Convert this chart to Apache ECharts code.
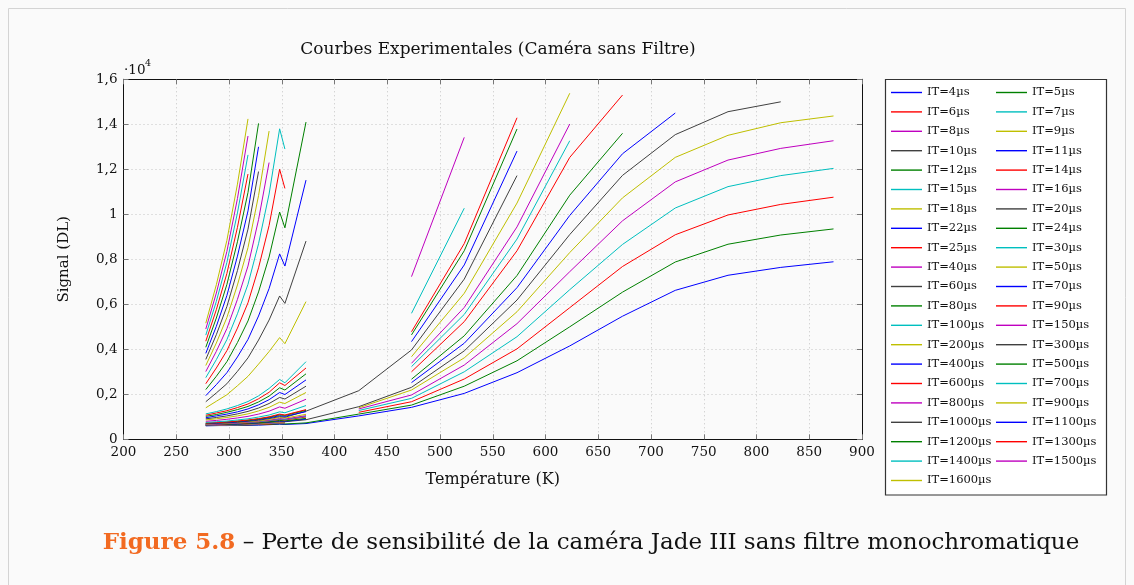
<!DOCTYPE html>
<html><head><meta charset="utf-8">
<script src="https://cdn.jsdelivr.net/npm/echarts@6/dist/echarts.min.js"></script>
<style>html,body{margin:0;padding:0;background:#fafafa}#c{width:1134px;height:585px}</style>
</head><body><div id="c"></div><script>
// Temperatures (K) at which the signal was measured
const temperatures = [278, 288, 298, 308, 318, 328, 338, 348, 353, 373, 423, 473, 523, 573, 623, 673, 723, 773, 823, 873];
// Integration times (µs)
const itTimes = [4,5,6,7,8,9,10,11,12,14,15,16,18,20,22,24,25,30,40,50,60,70,80,90,100,150,200,300,400,500,600,700,800,900,1000,1100,1200,1300,1400,1500,1600];
// Signal values in thousands of DL (null = no measurement)
const n = null;
const it4    = [0.60,0.61,0.61,0.62,0.62,0.63,0.65,0.67,0.66,0.70,1.04,1.42,2.04,2.96,4.15,5.47,6.62,7.29,7.64,7.89];
const it5    = [0.61,0.61,0.62,0.63,0.64,0.65,0.66,0.69,0.68,0.73,1.12,1.52,2.36,3.49,5.00,6.54,7.88,8.67,9.08,9.35];
const it6    = [0.61,0.62,0.63,0.64,0.65,0.66,0.68,0.71,0.70,n,1.20,1.67,2.68,4.02,5.85,7.68,9.09,9.97,10.44,10.76];
const it7    = [0.62,0.63,0.63,0.64,0.66,0.68,0.70,0.73,0.72,n,1.28,1.82,3.00,4.56,6.65,8.66,10.28,11.23,11.72,12.04];
const it8    = [0.62,0.63,0.64,0.65,0.67,0.69,0.71,0.75,0.74,n,1.35,1.97,3.30,5.14,7.45,9.71,11.44,12.41,12.93,13.27];
const it9    = [0.63,0.64,0.65,0.66,0.68,0.70,0.73,0.77,0.76,n,1.40,2.19,3.62,5.67,8.30,10.73,12.53,13.51,14.07,14.37];
const it10   = [0.64,0.65,0.66,0.67,0.69,0.72,0.75,0.79,0.78,0.87,1.45,2.31,3.93,6.19,9.10,11.73,13.54,14.56,15.00];
const it11   = [0.64,0.65,0.67,0.68,0.70,0.73,0.77,0.82,0.80,0.90,n,2.52,4.27,6.74,9.95,12.69,14.50];
const it12   = [0.65,0.66,0.67,0.69,0.71,0.74,0.78,0.84,0.82,0.93,n,2.67,4.60,7.28,10.85,13.60];
const it14   = [0.66,0.67,0.69,0.71,0.73,0.77,0.82,0.88,0.86,0.99,n,3.00,5.23,8.38,12.53,15.30];
const it15   = [0.66,0.68,0.70,0.72,0.75,0.78,0.83,0.90,0.88,1.02,n,3.23,5.55,8.90,13.27];
const it16   = [0.67,0.68,0.70,0.73,0.76,0.80,0.85,0.92,0.90,1.05,n,3.38,5.86,9.44,14.01];
const it18   = [0.68,0.70,0.72,0.75,0.78,0.82,0.88,0.97,0.94,1.11,n,3.67,6.49,10.50,15.38];
const it20   = [0.69,0.71,0.73,0.76,0.80,0.85,0.92,1.01,0.98,1.25,2.16,3.97,7.12,11.72];
const it22   = [0.70,0.72,0.75,0.78,0.82,0.88,0.95,1.05,1.02,1.23,n,4.34,7.75,12.81];
const it24   = [0.71,0.74,0.77,0.80,0.84,0.90,0.98,1.09,1.06,1.29,n,4.64,8.38,13.79];
const it25   = [0.72,0.74,0.77,0.81,0.86,0.92,1.00,1.12,1.08,1.32,n,4.78,8.70,14.29];
const it30   = [0.75,0.78,0.81,0.86,0.91,0.99,1.08,1.22,1.18,1.50,n,5.60,10.27];
const it40   = [0.80,0.84,0.89,0.95,1.02,1.12,1.25,1.44,1.38,1.78,n,7.23,13.42];
const it50   = [0.86,0.91,0.97,1.04,1.13,1.26,1.42,1.65,1.59,2.08];
const it60   = [0.91,0.97,1.04,1.13,1.24,1.39,1.59,1.86,1.79,2.36];
const it70   = [0.96,1.04,1.12,1.22,1.35,1.53,1.76,2.08,1.99,2.64];
const it80   = [1.02,1.10,1.20,1.32,1.46,1.66,1.92,2.29,2.19,2.91];
const it90   = [1.07,1.17,1.27,1.41,1.57,1.80,2.09,2.51,2.39,3.17];
const it100  = [1.13,1.23,1.35,1.50,1.68,1.93,2.26,2.66,2.51,3.45];
const it150  = [];
const it200  = [1.40,1.69,1.98,2.38,2.80,3.34,3.90,4.52,4.25,6.12];
const it300  = [1.67,2.06,2.47,3.02,3.62,4.41,5.30,6.37,6.04,8.81];
const it400  = [1.94,2.43,2.96,3.66,4.44,5.48,6.70,8.24,7.70,11.52];
const it500  = [2.21,2.80,3.45,4.30,5.26,6.55,8.10,10.10,9.40,14.10];
const it600  = [2.47,3.17,3.94,4.94,6.07,7.62,9.50,12.00,11.15];
const it700  = [2.74,3.54,4.43,5.58,6.89,8.69,10.90,13.80,12.90];
const it800  = [3.01,3.91,4.92,6.22,7.70,9.76,12.30];
const it900  = [3.28,4.28,5.41,6.86,8.52,10.83,13.70];
const it1000 = [3.55,4.65,5.90,7.50,9.34,11.90];
const it1100 = [3.82,5.02,6.39,8.14,10.15,13.00];
const it1200 = [4.09,5.39,6.88,8.78,10.97,14.04];
const it1300 = [4.36,5.76,7.37,9.42,11.79];
const it1400 = [4.63,6.13,7.86,10.06,12.64];
const it1500 = [4.90,6.50,8.35,10.70,13.48];
const it1600 = [5.16,6.87,8.84,11.34,14.24];
const seriesValues = [it4,it5,it6,it7,it8,it9,it10,it11,it12,it14,it15,it16,it18,it20,it22,it24,it25,it30,it40,it50,it60,it70,it80,it90,it100,it150,it200,it300,it400,it500,it600,it700,it800,it900,it1000,it1100,it1200,it1300,it1400,it1500,it1600];
const xTicks = [200,250,300,350,400,450,500,550,600,650,700,750,800,850,900];
const yTickLabels = ['0','0,2','0,4','0,6','0,8','1','1,2','1,4','1,6'];

const palette = ['#0000ff','#008000','#ff0000','#00bfbf','#bf00bf','#bfbf00','#404040'];
const FONT = '"DejaVu Serif", serif';
const names = itTimes.map(t => 'IT=' + t + 'µs');

const series = seriesValues.map((vals, i) => ({
  name: names[i], type: 'line', symbol: 'none', showSymbol: false,
  connectNulls: false, animation: false, z: 3,
  lineStyle: { width: 1, color: palette[i % 7] },
  itemStyle: { color: palette[i % 7] },
  data: temperatures.map((t, j) => [t, (vals[j] === undefined || vals[j] === null) ? '-' : vals[j]])
}));

const gridL = 123.5, gridR = 1134 - 862, gridT = 79.3, gridB = 585 - 439.3;
const legendCommon = {
  orient: 'vertical', top: 85.5, itemGap: 5.4, itemWidth: 31, itemHeight: 1.4, icon: 'rect',
  padding: 0, z: 6, selectedMode: false,
  textStyle: { fontFamily: FONT, fontSize: 11.5, color: '#111', lineHeight: 14 }
};

const chart = echarts.init(document.getElementById('c'), null, { renderer: 'canvas' });
chart.setOption({
  backgroundColor: '#fafafa',
  animation: false,
  color: palette,
  grid: { left: gridL, right: gridR, top: gridT, bottom: gridB, containLabel: false },
  legend: [
    Object.assign({}, legendCommon, { left: 891, data: names.filter((_, i) => i % 2 === 0) }),
    Object.assign({}, legendCommon, { left: 996, data: names.filter((_, i) => i % 2 === 1) })
  ],
  xAxis: [{
    type: 'value', min: 200, max: 900, interval: 50, position: 'bottom',
    name: 'Température (K)', nameLocation: 'middle', nameGap: 33,
    nameTextStyle: { fontFamily: FONT, fontSize: 16, color: '#111' },
    axisLine: { show: true, onZero: false, lineStyle: { color: '#111', width: 1 } },
    axisTick: { show: true, inside: true, length: 5, lineStyle: { color: '#777' } },
    axisLabel: { fontFamily: FONT, fontSize: 13.5, color: '#111', margin: 6,
      formatter: v => xTicks.includes(v) ? String(v) : '' },
    splitLine: { show: true, lineStyle: { color: '#c4c4c4', type: [1, 3], width: 1 } }
  }, {
    type: 'value', min: 200, max: 900, interval: 50, position: 'top',
    axisLine: { show: true, onZero: false, lineStyle: { color: '#111', width: 1 } },
    axisTick: { show: true, inside: true, length: 5, lineStyle: { color: '#777' } },
    axisLabel: { show: false }, splitLine: { show: false }
  }],
  yAxis: [{
    type: 'value', min: 0, max: 16, interval: 2, position: 'left',
    name: 'Signal (DL)', nameLocation: 'middle', nameGap: 52, nameRotate: 90,
    nameTextStyle: { fontFamily: FONT, fontSize: 15, color: '#111' },
    axisLine: { show: true, onZero: false, lineStyle: { color: '#111', width: 1 } },
    axisTick: { show: true, inside: true, length: 5, lineStyle: { color: '#777' } },
    axisLabel: { fontFamily: FONT, fontSize: 13.5, color: '#111', margin: 6,
      formatter: v => yTickLabels[Math.round(v / 2)] },
    splitLine: { show: true, lineStyle: { color: '#c4c4c4', type: [1, 3], width: 1 } }
  }, {
    type: 'value', min: 0, max: 16, interval: 2, position: 'right',
    axisLine: { show: true, onZero: false, lineStyle: { color: '#111', width: 1 } },
    axisTick: { show: true, inside: true, length: 5, lineStyle: { color: '#777' } },
    axisLabel: { show: false }, splitLine: { show: false }
  }],
  series: series,
  graphic: [
    { type: 'rect', z: 0, silent: true, shape: { x: 8.5, y: 8.5, width: 1117, height: 600 },
      style: { fill: 'none', stroke: '#d4d4d4', lineWidth: 1 } },
    { type: 'rect', z: 1, silent: true, shape: { x: 885.5, y: 79.5, width: 221, height: 415.5 },
      style: { fill: '#ffffff', stroke: '#333', lineWidth: 1.2 } },
    { type: 'text', z: 5, style: { x: 498, y: 50, text: 'Courbes Experimentales (Caméra sans Filtre)',
      textAlign: 'center', textVerticalAlign: 'middle', font: '17px ' + FONT, fill: '#111' } },
    { type: 'text', z: 5, style: { x: 124, y: 70, text: '·10', textAlign: 'left', textVerticalAlign: 'middle',
      font: '13.5px ' + FONT, fill: '#111' } },
    { type: 'text', z: 5, style: { x: 145, y: 64, text: '4', textAlign: 'left', textVerticalAlign: 'middle',
      font: '9.5px ' + FONT, fill: '#111' } },
    { type: 'text', z: 5, style: { x: 591, y: 543, textAlign: 'center', textVerticalAlign: 'middle',
      text: '{a|Figure 5.8} – Perte de sensibilité de la caméra Jade III sans filtre monochromatique',
      font: '23px ' + FONT, fill: '#111',
      rich: { a: { fontFamily: FONT, fontSize: 23, fontWeight: 'bold', fill: '#f26a21' } } } }
  ]
});
</script></body></html>
